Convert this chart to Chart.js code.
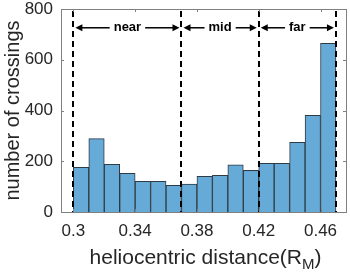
<!DOCTYPE html>
<html>
<head>
<meta charset="utf-8">
<script src="https://cdn.jsdelivr.net/npm/chart.js@4.4.1/dist/chart.umd.min.js"></script>
<style>
  html, body { margin: 0; padding: 0; background: #fff; }
  #wrap { width: 350px; height: 276px; }
</style>
</head>
<body>
<div id="wrap"><canvas id="hist"></canvas></div>
<script>
// histogram bins (centres, width 0.01) and counts
var binCenters = [0.305, 0.315, 0.325, 0.335, 0.345, 0.355, 0.365, 0.375, 0.385,
                  0.395, 0.405, 0.415, 0.425, 0.435, 0.445, 0.455, 0.465];
var counts = [176, 289, 188, 152, 121, 121, 105, 110, 141, 145, 186, 164, 192, 192, 275, 381, 665];
var xTicks = [0.3, 0.34, 0.38, 0.42, 0.46];
var regionEdges = [0.3, 0.37, 0.42, 0.47];
var regionLabels = ['near', 'mid', 'far'];
var arrowLevel = 726;

var FONT = '"Liberation Sans", Arial, Helvetica, sans-serif';

function drawArrow(c, from, to, y) {
  var dir = to > from ? 1 : -1;
  c.beginPath();
  c.moveTo(from, y);
  c.lineTo(to - dir * 5, y);
  c.stroke();
  c.beginPath();
  c.moveTo(to, y);
  c.lineTo(to - dir * 7, y - 3.5);
  c.lineTo(to - dir * 7, y + 3.5);
  c.closePath();
  c.fill();
}

var overlay = {
  id: 'overlay',
  afterDatasetsDraw: function (chart) {
    var c = chart.ctx, a = chart.chartArea;
    var xs = chart.scales.x, ys = chart.scales.y;
    c.save();

    // dashed region boundaries
    c.strokeStyle = '#000';
    c.lineWidth = 2;
    c.setLineDash([6, 4]);
    regionEdges.forEach(function (v) {
      var px = Math.round(xs.getPixelForValue(v));
      c.beginPath();
      c.moveTo(px, a.top + 2);
      c.lineTo(px, a.bottom);
      c.stroke();
    });
    c.setLineDash([]);

    // region arrows + labels
    var ay = ys.getPixelForValue(arrowLevel);
    c.font = 'bold 13px ' + FONT;
    c.textAlign = 'center';
    c.textBaseline = 'middle';
    c.fillStyle = '#000';
    c.lineWidth = 1.5;
    for (var i = 0; i < regionLabels.length; i++) {
      var x0 = xs.getPixelForValue(regionEdges[i]) + 2;
      var x1 = xs.getPixelForValue(regionEdges[i + 1]) - 2;
      var mid = (x0 + x1) / 2;
      var half = c.measureText(regionLabels[i]).width / 2 + 4;
      c.fillText(regionLabels[i], mid, ay);
      drawArrow(c, mid - half, x0, ay);
      drawArrow(c, mid + half, x1, ay);
    }

    // axes box with inward ticks
    c.strokeStyle = '#808080';
    c.lineWidth = 1;
    c.strokeRect(Math.round(a.left) + 0.5, Math.round(a.top) + 0.5,
                 Math.round(a.right - a.left), Math.round(a.bottom - a.top));
    c.beginPath();
    xTicks.forEach(function (v) {
      var px = Math.round(xs.getPixelForValue(v)) + 0.5;
      c.moveTo(px, a.bottom); c.lineTo(px, a.bottom - 3);
      c.moveTo(px, a.top); c.lineTo(px, a.top + 3);
    });
    ys.ticks.forEach(function (t) {
      var py = Math.round(ys.getPixelForValue(t.value)) + 0.5;
      c.moveTo(a.left, py); c.lineTo(a.left + 3, py);
      c.moveTo(a.right, py); c.lineTo(a.right - 3, py);
    });
    c.stroke();

    // axis titles
    c.fillStyle = '#262626';
    c.textBaseline = 'middle';
    var main = 'heliocentric distance(R', sub = 'M', close = ')';
    c.font = '21px ' + FONT;
    var w1 = c.measureText(main).width, w3 = c.measureText(close).width;
    c.font = '15px ' + FONT;
    var w2 = c.measureText(sub).width;
    var tx = (a.left + a.right) / 2 - (w1 + w2 + w3) / 2 + 2;
    var ty = 258;
    c.textAlign = 'left';
    c.font = '21px ' + FONT;
    c.fillText(main, tx, ty);
    c.font = '15px ' + FONT;
    c.fillText(sub, tx + w1, ty + 7);
    c.font = '21px ' + FONT;
    c.fillText(close, tx + w1 + w2, ty);

    c.translate(13, (a.top + a.bottom) / 2);
    c.rotate(-Math.PI / 2);
    c.textAlign = 'center';
    c.font = '20px ' + FONT;
    c.fillText('number of crossings', 0, 0);
    c.restore();
  }
};

new Chart(document.getElementById('hist'), {
  type: 'bar',
  data: {
    datasets: [{
      data: binCenters.map(function (x, i) { return { x: x, y: counts[i] }; }),
      backgroundColor: '#66aad7',
      borderColor: '#2e3a44',
      borderWidth: 1,
      barPercentage: 1,
      categoryPercentage: 1
    }]
  },
  options: {
    responsive: true,
    maintainAspectRatio: false,
    animation: false,
    layout: { padding: { left: 0, right: 4, top: 9, bottom: 0 } },
    plugins: { legend: { display: false }, tooltip: { enabled: false } },
    scales: {
      x: {
        type: 'linear',
        offset: false,
        min: 0.292,
        max: 0.4765,
        grid: { display: false, drawTicks: false },
        border: { display: false },
        afterBuildTicks: function (s) {
          s.ticks = xTicks.map(function (v) { return { value: v }; });
        },
        afterFit: function (s) {
          s.height = 64;
          s.paddingLeft = 0; s.paddingRight = 0;
        },
        ticks: {
          padding: 9,
          color: '#262626',
          font: { family: FONT, size: 17 },
          maxRotation: 0,
          callback: function (v) { return String(Math.round(v * 100) / 100); }
        }
      },
      y: {
        min: 0,
        max: 800,
        grid: { display: false, drawTicks: false },
        border: { display: false },
        afterFit: function (s) {
          s.width = 61;
          s.paddingTop = 0; s.paddingBottom = 0;
        },
        ticks: {
          stepSize: 200,
          padding: 8,
          color: '#262626',
          font: { family: FONT, size: 17 }
        }
      }
    }
  },
  plugins: [overlay]
});
</script>
</body>
</html>
